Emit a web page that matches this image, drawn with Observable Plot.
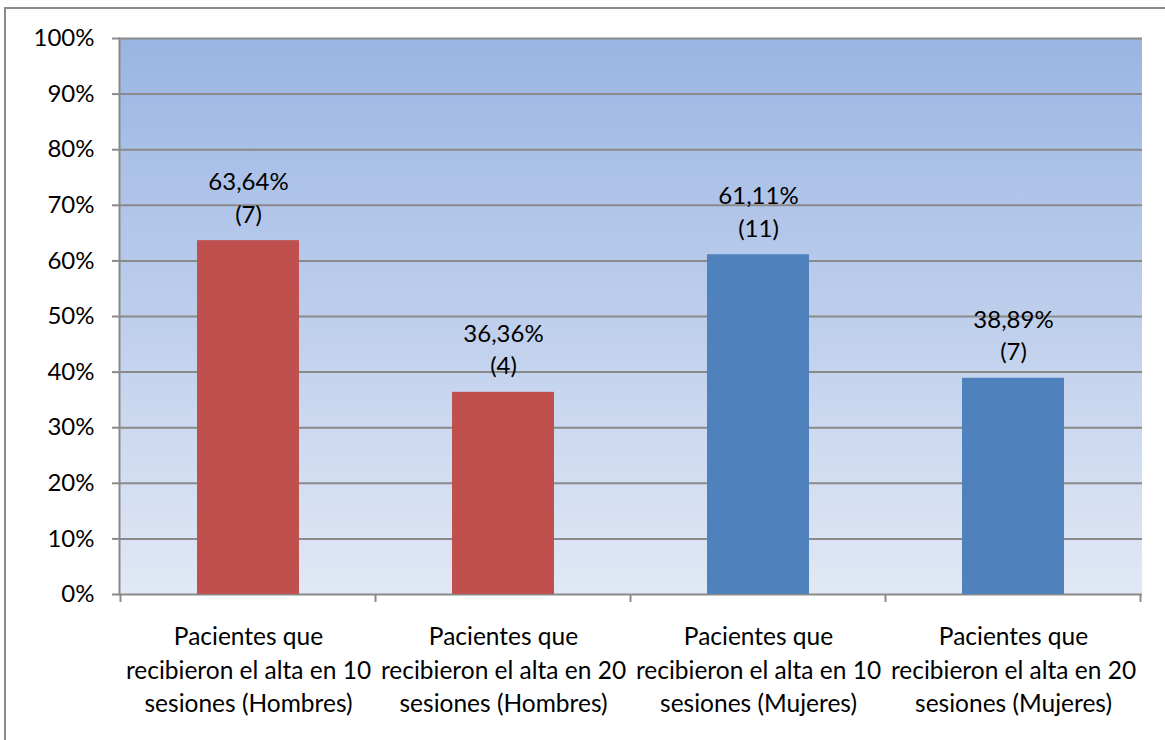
<!DOCTYPE html>
<html>
<head>
<meta charset="utf-8">
<script src="https://cdn.jsdelivr.net/npm/d3@7"></script>
<script src="https://cdn.jsdelivr.net/npm/@observablehq/plot@0.6"></script>
<style>
  html, body { margin: 0; padding: 0; background: #fff; }
  #wrap { position: relative; width: 1165px; height: 740px; overflow: hidden; }
  #border { position: absolute; left: 4px; top: 7px; width: 1200px; height: 800px; border: 2px solid #8a8a8a; box-sizing: border-box; }
  #chart { position: absolute; left: 0; top: 0; }
</style>
</head>
<body>
<div id="wrap"><div id="border"></div><div id="chart"></div></div>
<script>
const categories = [
  "Pacientes que\nrecibieron el alta en 10\nsesiones (Hombres)",
  "Pacientes que\nrecibieron el alta en 20\nsesiones (Hombres)",
  "Pacientes que\nrecibieron el alta en 10\nsesiones (Mujeres)",
  "Pacientes que\nrecibieron el alta en 20\nsesiones (Mujeres)"
];
const percentages = [63.64, 36.36, 61.11, 38.89];
const counts = [7, 4, 11, 7];
const groups = ["Hombres", "Hombres", "Mujeres", "Mujeres"];
const yTicks = [0, 10, 20, 30, 40, 50, 60, 70, 80, 90, 100];

const data = categories.map((c, i) => ({
  category: c, value: percentages[i], count: counts[i], group: groups[i]
}));

const FONT = "Lato, 'Noto Sans', sans-serif";
const comma = v => d3.format(".2f")(v).replace(".", ",");
const gridColor = "#8a8a8a";

const background = (index, scales, values, dim) => {
  const g = d3.create("svg:g");
  const defs = g.append("defs");
  const lg = defs.append("linearGradient").attr("id", "bg-grad")
    .attr("x1", 0).attr("y1", 0).attr("x2", 0).attr("y2", 1);
  lg.append("stop").attr("offset", "0%").attr("stop-color", "#9ab5e3");
  lg.append("stop").attr("offset", "100%").attr("stop-color", "#e1e8f5");
  g.append("rect")
    .attr("x", dim.marginLeft).attr("y", dim.marginTop)
    .attr("width", dim.width - dim.marginLeft - dim.marginRight)
    .attr("height", dim.height - dim.marginTop - dim.marginBottom)
    .attr("fill", "url(#bg-grad)");
  return g.node();
};

const boundaryTicks = (index, scales, values, dim) => {
  const x = scales.x;
  const step = x(categories[1]) - x(categories[0]);
  const bw = x.bandwidth ? x.bandwidth() : 0;
  const y0 = dim.height - dim.marginBottom;
  const g = d3.create("svg:g").attr("stroke", gridColor).attr("stroke-width", 2);
  const xs = categories.map(c => x(c) + bw / 2 - step / 2);
  xs.push(x(categories[categories.length - 1]) + bw / 2 + step / 2);
  xs.forEach(px => g.append("line").attr("x1", px).attr("x2", px).attr("y1", y0).attr("y2", y0 + 8));
  return g.node();
};

const chart = Plot.plot({
  width: 1165,
  height: 740,
  marginLeft: 119,
  marginRight: 23,
  marginTop: 38,
  marginBottom: 146,
  style: { fontFamily: FONT, background: "transparent" },
  x: { domain: categories, paddingInner: 0.6, paddingOuter: 0.3, axis: null },
  y: { domain: [0, 100], axis: null },
  color: { domain: ["Hombres", "Mujeres"], range: ["#c0504d", "#4f81bd"] },
  marks: [
    background,
    Plot.ruleY(yTicks, { stroke: gridColor, strokeWidth: 2 }),
    Plot.frame({ anchor: "left", stroke: gridColor, strokeWidth: 2 }),
    Plot.barY(data, { x: "category", y: "value", fill: "group" }),
    Plot.text(data, {
      x: "category", y: "value",
      text: d => `${comma(d.value)}%\n(${d.count})`,
      lineAnchor: "bottom", lineHeight: 1.35, dy: -18,
      fontSize: 24, fill: "#000", fontFamily: FONT
    }),
    Plot.axisY({
      ticks: yTicks, tickFormat: d => d + "%", tickSize: 7, tickPadding: 18, label: null,
      stroke: gridColor, strokeWidth: 2, fontSize: 24, color: "#000", fontFamily: FONT
    }),
    Plot.axisX({
      tickSize: 0, tickPadding: 27, lineHeight: 1.37, label: null,
      fontSize: 24.5, color: "#000", fontFamily: FONT
    }),
    boundaryTicks
  ]
});
document.getElementById("chart").appendChild(chart);
</script>
</body>
</html>
